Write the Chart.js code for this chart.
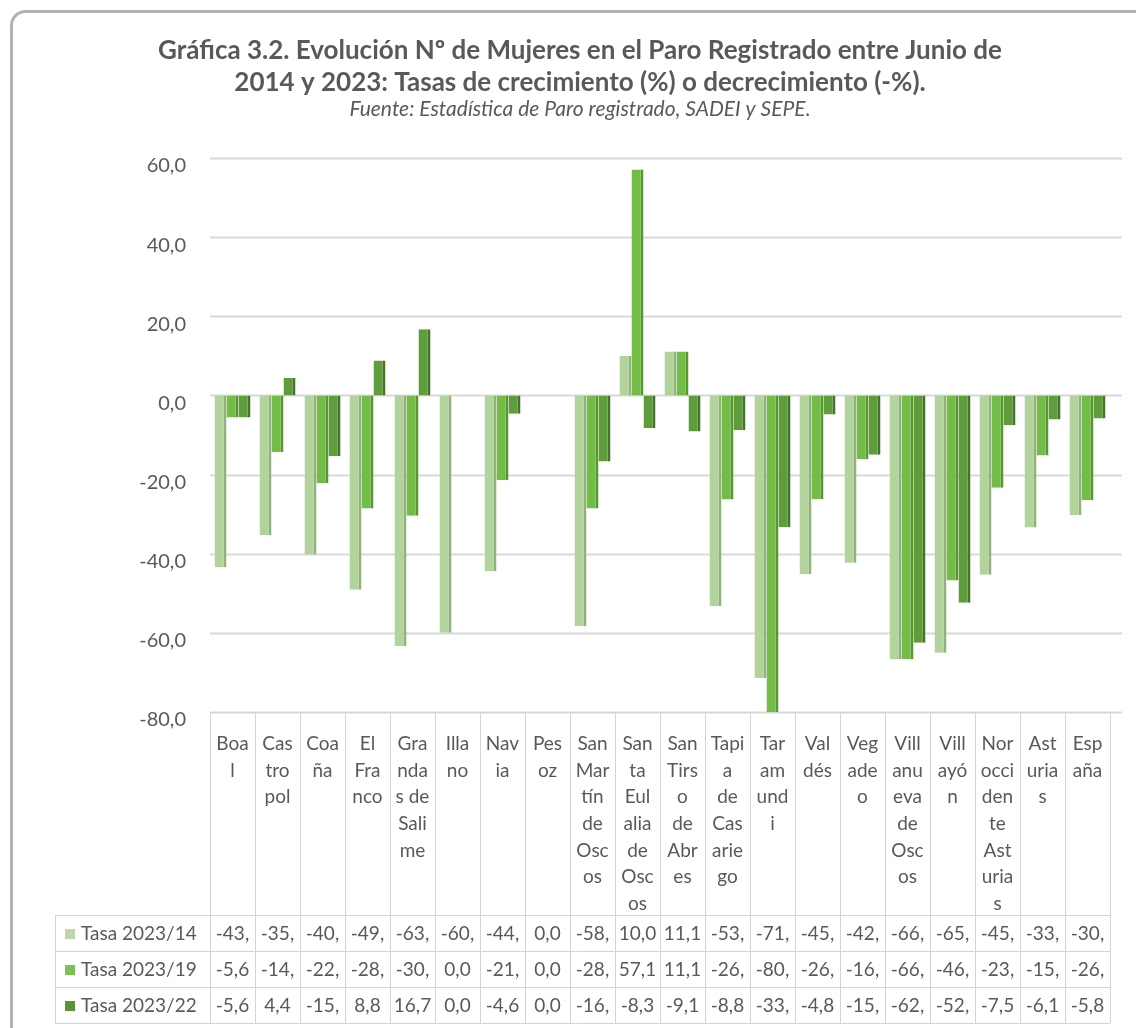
<!DOCTYPE html>
<html>
<head>
<meta charset="utf-8">
<script src="https://cdn.jsdelivr.net/npm/chart.js@4.4.1/dist/chart.umd.min.js"></script>
<style>
  html, body { margin: 0; padding: 0; background: #fff; }
  #wrap { width: 1136px; height: 1028px; }
</style>
</head>
<body>
<div id="wrap"><canvas id="chart" width="1136" height="1028"></canvas></div>
<script>
// categories and series (tasas %)
const categories = [
	"Boal", "Castropol", "Coaña", "El Franco", "Grandas de Salime", "Illano",
	"Navia", "Pesoz", "San Martín de Oscos", "Santa Eulalia de Oscos",
	"San Tirso de Abres", "Tapia de Casariego", "Taramundi", "Valdés",
	"Vegadeo", "Villanueva de Oscos", "Villayón", "Noroccidente Asturias",
	"Asturias", "España"
];
const seriesNames = ["Tasa 2023/14", "Tasa 2023/19", "Tasa 2023/22"];
const tasa2023_14 = [-43.4, -35.3, -40.2, -49.1, -63.3, -60.0, -44.4, 0.0, -58.3, 10.0, 11.1, -53.2, -71.4, -45.2, -42.3, -66.7, -65.0, -45.3, -33.4, -30.2];
const tasa2023_19 = [-5.6, -14.3, -22.1, -28.6, -30.4, 0.0, -21.4, 0.0, -28.6, 57.1, 11.1, -26.3, -80.0, -26.2, -16.1, -66.7, -46.8, -23.3, -15.2, -26.5];
const tasa2023_22 = [-5.6, 4.4, -15.4, 8.8, 16.7, 0.0, -4.6, 0.0, -16.7, -8.3, -9.1, -8.8, -33.3, -4.8, -15.0, -62.5, -52.4, -7.5, -6.1, -5.8];
const yMin = -80;
const yMax = 60;
const yStep = 20;

const fillColors = ["#b3d39d", "#74bc48", "#5f9c3b"];
const sideColors = ["#8fb27a", "#56972f", "#427529"];
const swatchColors = ["#bcd8ab", "#7cbf54", "#5c9339"];

const fontFamily = "Lato, 'Open Sans', sans-serif";
const textColor = "#595959";

const fmt = (v) => v.toFixed(1).replace(".", ",");

// cut text that does not fit the cell, like the spreadsheet does
const fitText = (ctx, text, maxW) => {
	let t = text;
	while (t.length > 1 && ctx.measureText(t).width > maxW) {
		t = t.slice(0, -1);
	}
	return t;
};

// wrap a category name into narrow lines (words first, then characters)
const wrapLabel = (ctx, text, maxW) => {
	const lines = [];
	let line = "";
	text.split(" ").forEach((word) => {
		const joined = line ? line + " " + word : word;
		if (ctx.measureText(joined).width <= maxW) {
			line = joined;
			return;
		}
		if (line) lines.push(line);
		line = "";
		let rest = word;
		while (ctx.measureText(rest).width > maxW) {
			let n = rest.length;
			while (n > 1 && ctx.measureText(rest.slice(0, n)).width > maxW) n--;
			lines.push(rest.slice(0, n));
			rest = rest.slice(n);
		}
		line = rest;
	});
	if (line) lines.push(line);
	return lines;
};

const chartPlugin = {
	id: "sheetLook",
	beforeDraw(chart) {
		const ctx = chart.ctx;
		ctx.save();
		ctx.fillStyle = "#fff";
		ctx.fillRect(0, 0, chart.width, chart.height);
		ctx.strokeStyle = "#b3b3b3";
		ctx.lineWidth = 3;
		ctx.beginPath();
		ctx.roundRect(11.5, 11.5, chart.width + 40, chart.height + 40, 14);
		ctx.stroke();
		ctx.restore();
	},
	beforeDatasetsDraw(chart) {
		const ctx = chart.ctx;
		const area = chart.chartArea;
		const y = chart.scales.y;
		ctx.save();
		ctx.strokeStyle = "#d9d9d9";
		ctx.lineWidth = 2;
		for (let v = yMin; v <= yMax; v += yStep) {
			const py = Math.round(y.getPixelForValue(v)) + 0.5;
			ctx.beginPath();
			ctx.moveTo(area.left, py);
			ctx.lineTo(area.right + 12, py);
			ctx.stroke();
		}
		ctx.restore();
	},
	afterDraw(chart) {
		const ctx = chart.ctx;
		const area = chart.chartArea;
		const x = chart.scales.x;
		const colW = (area.right - area.left) / categories.length;
		const headTop = area.bottom;
		const headBottom = 915;
		const rowH = 36;
		const tableBottom = headBottom + rowH * seriesNames.length;
		const legendLeft = 55;
		const series = [tasa2023_14, tasa2023_19, tasa2023_22];

		ctx.save();
		ctx.strokeStyle = "#d4d4d4";
		ctx.lineWidth = 1;

		// horizontal lines
		ctx.beginPath();
		ctx.moveTo(area.left, headTop + 0.5);
		ctx.lineTo(area.right, headTop + 0.5);
		for (let r = 0; r <= seriesNames.length; r++) {
			const py = headBottom + r * rowH + 0.5;
			ctx.moveTo(legendLeft, py);
			ctx.lineTo(area.right, py);
		}
		// vertical lines
		for (let i = 0; i <= categories.length; i++) {
			const px = Math.round(area.left + i * colW) + 0.5;
			ctx.moveTo(px, headTop);
			ctx.lineTo(px, tableBottom);
		}
		ctx.moveTo(legendLeft + 0.5, headBottom);
		ctx.lineTo(legendLeft + 0.5, tableBottom);
		ctx.stroke();

		// category names
		ctx.fillStyle = textColor;
		ctx.font = "19px " + fontFamily;
		ctx.textAlign = "center";
		ctx.textBaseline = "middle";
		categories.forEach((name, i) => {
			const cx = x.getPixelForValue(i);
			wrapLabel(ctx, name, 34).forEach((ln, k) => {
				ctx.fillText(ln, cx, headTop + 32 + k * 26.6);
			});
		});

		// data rows
		series.forEach((vals, r) => {
			const cy = headBottom + r * rowH + rowH / 2 + 1;
			ctx.fillStyle = swatchColors[r];
			ctx.fillRect(legendLeft + 10, cy - 5, 10, 10);
			ctx.fillStyle = textColor;
			ctx.textAlign = "left";
			ctx.fillText(seriesNames[r], legendLeft + 26, cy);
			ctx.textAlign = "center";
			vals.forEach((v, i) => {
				const cx = x.getPixelForValue(i);
				ctx.fillText(fitText(ctx, fmt(v), colW - 5), cx, cy);
			});
		});
		ctx.restore();
	},
};

const datasets = seriesNames.map((name, i) => ({
	label: name,
	data: [tasa2023_14, tasa2023_19, tasa2023_22][i],
	backgroundColor: fillColors[i],
	borderColor: sideColors[i],
	borderWidth: { top: 0, right: 3, bottom: 0, left: 0 },
	borderSkipped: false,
	categoryPercentage: 0.8,
	barPercentage: 1.0,
}));

new Chart(document.getElementById("chart"), {
	type: "bar",
	data: {
		labels: categories,
		datasets: datasets,
	},
	options: {
		responsive: false,
		animation: false,
		devicePixelRatio: 1,
		layout: {
			padding: { top: 35, left: 50, right: 26, bottom: 316 },
		},
		scales: {
			x: {
				display: false,
			},
			y: {
				min: yMin,
				max: yMax,
				afterFit: (scale) => {
					scale.width = 160;
				},
				grid: { display: false, drawTicks: false },
				border: { display: false },
				ticks: {
					stepSize: yStep,
					padding: 24,
					labelOffset: 8,
					color: textColor,
					font: { family: fontFamily, size: 20 },
					callback: (v) => fmt(v),
				},
			},
		},
		plugins: {
			legend: { display: false },
			tooltip: { enabled: false },
			title: {
				display: true,
				text: [
					"Gráfica 3.2. Evolución Nº de Mujeres en el Paro Registrado entre Junio de",
					"2014 y 2023: Tasas de crecimiento (%) o decrecimiento (-%).",
				],
				color: textColor,
				font: { family: fontFamily, size: 26, weight: "bold", lineHeight: 32 / 26 },
				padding: { top: 0, bottom: 0 },
			},
			subtitle: {
				display: true,
				text: "Fuente: Estadística de Paro registrado, SADEI y SEPE.",
				color: textColor,
				font: { family: fontFamily, size: 21, style: "italic", lineHeight: 20 / 21 },
				padding: { top: 0, bottom: 39 },
			},
		},
	},
	plugins: [chartPlugin],
});
</script>
</body>
</html>
